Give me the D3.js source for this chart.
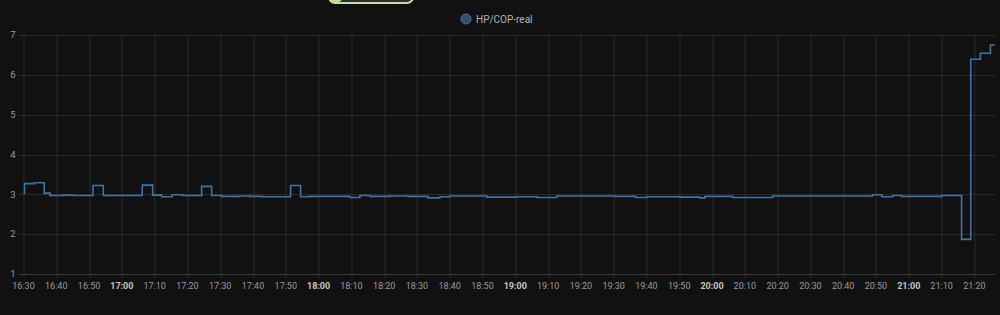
<!DOCTYPE html>
<html>
<head>
<meta charset="utf-8">
<script src="https://cdn.jsdelivr.net/npm/d3@7"></script>
<style>
  html, body { margin: 0; padding: 0; background: #111111; }
  svg { display: block; }
  text { font-family: Roboto, "Noto Sans", sans-serif; }
</style>
</head>
<body>
<svg id="chart" width="1000" height="315"></svg>
<script>
// HP/COP-real samples (time of change, value held until the next one)
const times = [
    '16:30:00', '16:30:18', '16:33:18', '16:36:20', '16:38:05', '16:42:02', '16:45:05',
    '16:51:12', '16:54:20', '17:06:13', '17:09:23', '17:12:08', '17:15:17', '17:18:20',
    '17:24:20', '17:27:23', '17:30:31', '17:36:00', '17:39:03', '17:42:43', '17:51:28',
    '17:54:31', '17:57:20', '18:09:32', '18:12:35', '18:15:38', '18:21:44', '18:27:13',
    '18:33:19', '18:37:00', '18:40:02', '18:51:18', '19:00:28', '19:06:34', '19:12:40',
    '19:30:20', '19:36:43', '19:40:05', '19:50:09', '19:56:15', '19:57:48', '20:06:18',
    '20:18:30', '20:49:00', '20:51:44', '20:55:05', '20:57:48', '21:10:00', '21:16:06',
    '21:18:54', '21:21:50', '21:24:54', '21:26:18'
];
const copValues = [
    3.03, 3.27, 3.29, 3.03, 2.97, 2.98, 2.97,
    3.22, 2.97, 3.23, 2.98, 2.94, 2.99, 2.97,
    3.20, 2.97, 2.95, 2.96, 2.95, 2.94, 3.22,
    2.94, 2.95, 2.92, 2.97, 2.95, 2.96, 2.95,
    2.91, 2.94, 2.96, 2.93, 2.94, 2.92, 2.96,
    2.95, 2.92, 2.94, 2.93, 2.91, 2.95, 2.92,
    2.96, 2.99, 2.94, 2.97, 2.95, 2.97, 1.87,
    6.39, 6.54, 6.75, 6.75
];
const yTicks = [1, 2, 3, 4, 5, 6, 7];
const seriesName = 'HP/COP-real';
const xStart = '16:30:00';
const xEnd = '21:26:18';

const parseTime = d3.timeParse('%H:%M:%S');
const data = times.map((t, i) => ({ t: parseTime(t), v: copValues[i] }));

const svg = d3.select('#chart');
const margin = { top: 35, right: 5, bottom: 41, left: 23.5 };
const width = 1000 - margin.left - margin.right;
const height = 315 - margin.top - margin.bottom;

svg.append('rect')
    .attr('width', 1000)
    .attr('height', 315)
    .attr('fill', '#111111');

// the half-visible toggle at the top edge
svg.append('rect')
    .attr('x', 329).attr('y', -12)
    .attr('width', 84).attr('height', 15)
    .attr('rx', 6)
    .attr('fill', '#2b2f2b')
    .attr('stroke', '#c5dba8')
    .attr('stroke-width', 2);
svg.append('rect')
    .attr('x', 330).attr('y', -10)
    .attr('width', 12).attr('height', 12)
    .attr('rx', 4)
    .attr('fill', '#c5dba8');

const x = d3.scaleTime()
    .domain([parseTime(xStart), parseTime(xEnd)])
    .range([0, width]);
const y = d3.scaleLinear()
    .domain([1, 7])
    .range([height, 0]);

const g = svg.append('g')
    .attr('transform', `translate(${margin.left},${margin.top})`);

// grid
const xTicks = x.ticks(d3.timeMinute.every(10));
g.append('g')
    .selectAll('line')
    .data(xTicks)
    .enter().append('line')
    .attr('x1', d => Math.round(x(d)) + 0.5)
    .attr('x2', d => Math.round(x(d)) + 0.5)
    .attr('y1', 0)
    .attr('y2', height + 4)
    .attr('stroke', '#2a2a2a');

g.append('g')
    .selectAll('line')
    .data(yTicks)
    .enter().append('line')
    .attr('x1', -5)
    .attr('x2', width)
    .attr('y1', d => Math.round(y(d)) + 0.5)
    .attr('y2', d => Math.round(y(d)) + 0.5)
    .attr('stroke', d => d === 1 ? '#3a3a3a' : '#2a2a2a');

// y labels
g.append('g')
    .selectAll('text')
    .data(yTicks)
    .enter().append('text')
    .attr('x', -8)
    .attr('y', d => y(d))
    .attr('dy', '0.35em')
    .attr('text-anchor', 'end')
    .attr('font-size', 9.5)
    .attr('fill', '#9a9a9a')
    .text(d => d);

// x labels, hours in bold
const fmt = d3.timeFormat('%H:%M');
g.append('g')
    .selectAll('text')
    .data(xTicks)
    .enter().append('text')
    .attr('x', d => x(d))
    .attr('y', height + 12)
    .attr('dy', '0.35em')
    .attr('text-anchor', 'middle')
    .attr('font-size', 9)
    .attr('font-weight', d => d.getMinutes() === 0 ? 'bold' : 'normal')
    .attr('fill', d => d.getMinutes() === 0 ? '#c4c4c4' : '#9a9a9a')
    .text(d => fmt(d));

// series
const line = d3.line()
    .x(d => x(d.t))
    .y(d => y(d.v))
    .curve(d3.curveStepAfter);

g.append('path')
    .datum(data)
    .attr('fill', 'none')
    .attr('stroke', '#44739e')
    .attr('stroke-width', 1.6)
    .attr('d', line);

// legend
const legend = svg.append('g').attr('transform', 'translate(466,19)');
legend.append('circle')
    .attr('r', 5)
    .attr('fill', '#34506d')
    .attr('stroke', '#44739e')
    .attr('stroke-width', 1);
legend.append('text')
    .attr('x', 10)
    .attr('dy', '0.35em')
    .attr('font-size', 10)
    .attr('fill', '#b4b4b4')
    .text(seriesName);
</script>
</body>
</html>
